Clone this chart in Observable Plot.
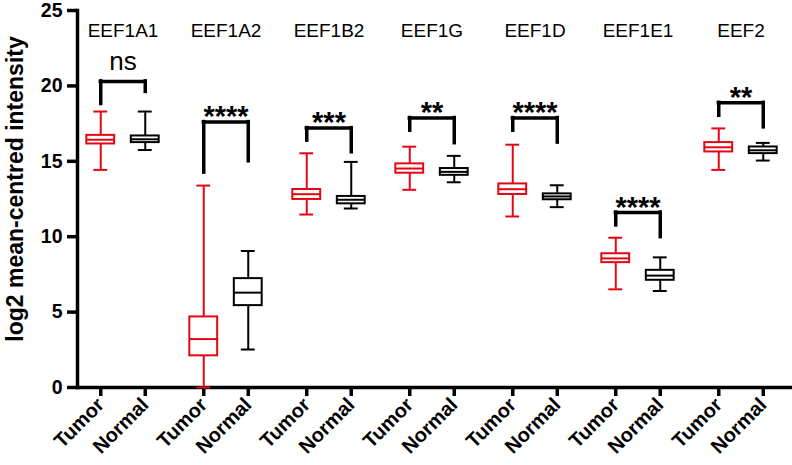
<!DOCTYPE html>
<html><head><meta charset="utf-8">
<script src="https://cdn.jsdelivr.net/npm/d3@7"></script>
<script src="https://cdn.jsdelivr.net/npm/@observablehq/plot@0.6"></script>
<style>body{margin:0;background:#fff}</style>
</head><body><div id="chart"></div>
<script>
const genes = ["EEF1A1","EEF1A2","EEF1B2","EEF1G","EEF1D","EEF1E1","EEF2"];
const groupLabels = ["Tumor","Normal"];
const tumorMin = [14.43, 0, 11.47, 13.11, 11.34, 6.51, 14.43];
const tumorQ1  = [16.15, 2.10, 12.47, 14.21, 12.80, 8.28, 15.62];
const tumorMed = [16.43, 3.21, 12.82, 14.52, 13.15, 8.56, 15.93];
const tumorQ3  = [16.72, 4.68, 13.13, 14.83, 13.50, 8.87, 16.24];
const tumorMax = [18.30, 13.39, 15.53, 15.97, 16.10, 9.93, 17.18];
const normalMin = [15.75, 2.52, 11.87, 13.61, 11.96, 6.40, 15.05];
const normalQ1  = [16.24, 5.43, 12.18, 14.07, 12.45, 7.11, 15.51];
const normalMed = [16.46, 6.29, 12.45, 14.30, 12.67, 7.42, 15.73];
const normalQ3  = [16.68, 7.22, 12.67, 14.52, 12.84, 7.77, 15.95];
const normalMax = [18.30, 9.05, 14.96, 15.36, 13.41, 8.63, 16.22];
const bracketTop   = [20.3, 17.6, 17.2, 17.87, 17.87, 11.6, 18.88];
const bracketLeft  = [18.8, 14.25, 16.37, 17.03, 17.03, 10.75, 18.02];
const bracketRight = [19.6, 15.0, 15.6, 16.2, 16.24, 9.97, 17.25];
const significance = ["ns","****","***","**","****","****","**"];
const yTicks = [0, 5, 10, 15, 20, 25];
const yLabel = "log2 mean-centred intensity";

const tumor = genes.map((g, i) => ({gene: g, min: tumorMin[i], q1: tumorQ1[i], med: tumorMed[i], q3: tumorQ3[i], max: tumorMax[i]}));
const normal = genes.map((g, i) => ({gene: g, min: normalMin[i], q1: normalQ1[i], med: normalMed[i], q3: normalQ3[i], max: normalMax[i]}));
const brackets = genes.map((g, i) => ({gene: g, top: bracketTop[i], left: bracketLeft[i], right: bracketRight[i], sig: significance[i]}));

const xRange = [70, 792];
const band = (xRange[1] - xRange[0]) / genes.length;
const off = 22.25;
const boxW = 28, capW = 14;
const boxInset = (band - boxW) / 2, capInset = (band - capW) / 2;
const legInset = band / 2 - off;
const red = "#e30613";

function boxMarks(rows, color, dx) {
  return [
    Plot.ruleX(rows, {x: "gene", y1: "min", y2: "max", stroke: color, strokeWidth: 2, dx}),
    Plot.tickY(rows, {x: "gene", y: "min", stroke: color, strokeWidth: 2, dx, insetLeft: capInset, insetRight: capInset}),
    Plot.tickY(rows, {x: "gene", y: "max", stroke: color, strokeWidth: 2, dx, insetLeft: capInset, insetRight: capInset}),
    Plot.barY(rows, {x: "gene", y1: "q1", y2: "q3", fill: "white", stroke: color, strokeWidth: 2, dx, insetLeft: boxInset, insetRight: boxInset}),
    Plot.tickY(rows, {x: "gene", y: "med", stroke: color, strokeWidth: 2, dx, insetLeft: boxInset, insetRight: boxInset})
  ];
}

const chart = Plot.plot({
  width: 792, height: 465,
  marginLeft: 77, marginRight: 0, marginTop: 10, marginBottom: 78,
  style: {fontFamily: "'Liberation Sans', Arial, sans-serif", color: "#000", background: "#fff"},
  x: {type: "band", domain: genes, range: xRange, padding: 0},
  y: {domain: [0, 25]},
  marks: [
    Plot.frame({anchor: "left", strokeWidth: 3.5}),
    Plot.ruleY([0], {strokeWidth: 3.5}),
    Plot.axisY({ticks: yTicks, tickSize: 10, tickPadding: 5, strokeWidth: 3.5, fontSize: 19.5, fontWeight: "bold", label: null}),
    Plot.axisX({anchor: "bottom", tickSize: 9, tickPadding: 5, strokeWidth: 3.5, dx: -off, tickRotate: -45, fontSize: 20, fontWeight: "bold", label: null, tickFormat: () => groupLabels[0]}),
    Plot.axisX({anchor: "bottom", tickSize: 9, tickPadding: 5, strokeWidth: 3.5, dx: off, tickRotate: -45, fontSize: 20, fontWeight: "bold", label: null, tickFormat: () => groupLabels[1]}),
    Plot.text([yLabel], {frameAnchor: "left", textAnchor: "middle", dx: -62, dy: -10, rotate: -90, fontSize: 23, fontWeight: "bold", text: d => d}),
    Plot.text(genes, {x: d => d, frameAnchor: "top", dy: 13, fontSize: 19, text: d => d}),
    ...boxMarks(tumor, red, -off),
    ...boxMarks(normal, "#000", off),
    Plot.tickY(brackets, {x: "gene", y: "top", strokeWidth: 3.5, insetLeft: legInset, insetRight: legInset, strokeLinecap: "square"}),
    Plot.ruleX(brackets, {x: "gene", y1: "top", y2: "left", dx: -off, strokeWidth: 3.5, strokeLinecap: "square"}),
    Plot.ruleX(brackets, {x: "gene", y1: "top", y2: "right", dx: off, strokeWidth: 3.5, strokeLinecap: "square"}),
    Plot.text(brackets.filter(d => d.sig !== "ns"), {x: "gene", y: "top", text: "sig", fontSize: 29, fontWeight: "bold", dy: -5}),
    Plot.text(brackets.filter(d => d.sig === "ns"), {x: "gene", y: "top", text: "sig", fontSize: 26, dy: -20})
  ]
});
document.getElementById("chart").appendChild(chart);
</script>
</body></html>
